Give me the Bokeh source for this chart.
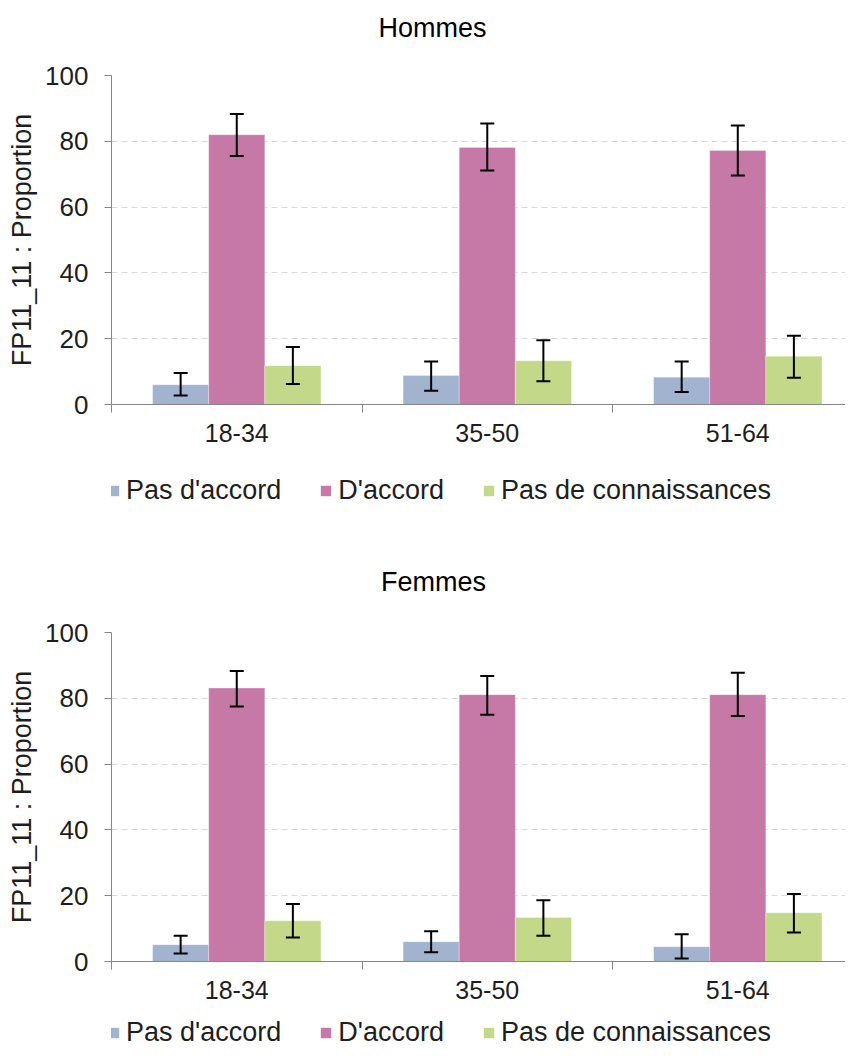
from bokeh.plotting import figure
from bokeh.models import (Range1d, FixedTicker, ColumnDataSource, Whisker, TeeHead,
                          Legend, LegendItem, Label)
from bokeh.layouts import column
from bokeh.embed import file_html
from bokeh.resources import INLINE

categories = ["18-34", "35-50", "51-64"]
series = ["Pas d'accord", "D'accord", "Pas de connaissances"]
colors = ["#A2B3D0", "#C678A6", "#C3D888"]
y_ticks = [0, 20, 40, 60, 80, 100]

# Hommes
hommes_pas_accord = [6.0, 8.8, 8.3]
hommes_pas_accord_lo = [2.7, 4.2, 3.8]
hommes_pas_accord_hi = [9.6, 13.1, 13.1]
hommes_accord = [82.0, 78.1, 77.2]
hommes_accord_lo = [75.5, 71.1, 69.6]
hommes_accord_hi = [88.3, 85.4, 84.8]
hommes_connais = [11.8, 13.3, 14.7]
hommes_connais_lo = [6.2, 7.1, 8.1]
hommes_connais_hi = [17.5, 19.5, 20.9]

# Femmes
femmes_pas_accord = [5.1, 6.0, 4.5]
femmes_pas_accord_lo = [2.4, 2.8, 0.9]
femmes_pas_accord_hi = [7.8, 9.2, 8.3]
femmes_accord = [83.1, 81.1, 81.1]
femmes_accord_lo = [77.5, 75.0, 74.6]
femmes_accord_hi = [88.3, 86.8, 87.8]
femmes_connais = [12.4, 13.4, 14.8]
femmes_connais_lo = [7.3, 7.8, 8.8]
femmes_connais_hi = [17.5, 18.6, 20.5]

FONT = "Liberation Sans"
TXT = "#1e1e1e"
AXIS = "#868686"
BAR_W = 0.224
OFFSETS = [-BAR_W, 0.0, BAR_W]
W = 845
LEFT_B = 111


def blank(height, top_b=0, bottom_b=0):
    f = figure(width=W, height=height, x_range=Range1d(0, 1), y_range=Range1d(0, 1),
               output_backend="svg", toolbar_location=None,
               x_axis_type=None, y_axis_type=None,
               min_border_left=0, min_border_right=0,
               min_border_top=top_b, min_border_bottom=bottom_b)
    f.outline_line_color = None
    f.xgrid.visible = False
    f.ygrid.visible = False
    return f


def add_title(f, text, sx, sy):
    f.add_layout(Label(x=sx, y=sy, x_units="screen", y_units="screen", text=text,
                       text_align="center", text_baseline="alphabetic",
                       text_font=FONT, text_font_size="27px", text_color="black"))


def add_legend(f, sx, sy):
    items = []
    for k in range(3):
        # legend swatch only: its single bar lies outside both visible ranges
        r = f.vbar(x=[-10], bottom=[-20], top=[-10], width=0.1,
                   fill_color=colors[k], line_color=None)
        items.append(LegendItem(label=series[k], renderers=[r]))
    leg = Legend(items=items, orientation="horizontal", location=(sx, sy),
                 padding=0, margin=0, spacing=38, label_standoff=6,
                 glyph_width=13, glyph_height=13,
                 label_text_font=FONT, label_text_font_size="27px", label_text_color=TXT,
                 border_line_color=None, background_fill_alpha=0)
    f.add_layout(leg, "center")


def make_chart(vals, los, his, top_b, bottom_b):
    p = figure(width=W, height=top_b + 329 + bottom_b, x_range=Range1d(0, 2.93),
               y_range=Range1d(0, 100),
               output_backend="svg", toolbar_location=None,
               min_border_left=LEFT_B, min_border_right=0,
               min_border_top=top_b, min_border_bottom=bottom_b)
    p.outline_line_color = None

    xax = p.xaxis[0]
    xax.ticker = FixedTicker(ticks=[0.5, 1.5, 2.5], minor_ticks=[0, 1, 2, 3])
    xax.major_label_overrides = {0.5: categories[0], 1.5: categories[1], 2.5: categories[2]}
    xax.major_tick_line_color = None
    xax.major_tick_out = 0
    xax.major_tick_in = 0
    xax.minor_tick_out = 8
    xax.minor_tick_in = 0
    xax.minor_tick_line_color = AXIS
    xax.axis_line_color = AXIS
    xax.major_label_standoff = 11
    xax.major_label_text_font = FONT
    xax.major_label_text_font_size = "25px"
    xax.major_label_text_color = TXT

    yax = p.yaxis[0]
    yax.ticker = FixedTicker(ticks=y_ticks, minor_ticks=[])
    yax.major_tick_out = 7
    yax.major_tick_in = 0
    yax.major_tick_line_color = AXIS
    yax.minor_tick_line_color = None
    yax.axis_line_color = AXIS
    yax.major_label_standoff = 16
    yax.major_label_text_font = FONT
    yax.major_label_text_font_size = "26px"
    yax.major_label_text_color = TXT
    yax.axis_label = "FP11_11 : Proportion"
    yax.axis_label_text_font = FONT
    yax.axis_label_text_font_size = "27px"
    yax.axis_label_text_font_style = "normal"
    yax.axis_label_text_color = TXT
    yax.axis_label_standoff = 5

    p.xgrid.grid_line_color = None
    p.ygrid.ticker = FixedTicker(ticks=y_ticks[1:])
    p.ygrid.grid_line_color = "#d9d9d9"
    p.ygrid.grid_line_dash = "6 4"
    p.ygrid.grid_line_width = 1

    for k in range(3):
        xs = [i + 0.5 + OFFSETS[k] for i in range(len(categories))]
        src = ColumnDataSource(dict(x=xs, top=vals[k], lo=los[k], hi=his[k]))
        p.vbar(x="x", top="top", bottom=0, width=BAR_W, source=src,
               fill_color=colors[k], line_color="white", line_width=0.6, line_alpha=0.5)
        w = Whisker(base="x", lower="lo", upper="hi", source=src, dimension="height",
                    line_color="black", line_width=2, level="annotation",
                    upper_head=TeeHead(size=14, line_width=2, line_color="black"),
                    lower_head=TeeHead(size=14, line_width=2, line_color="black"))
        p.add_layout(w)
    return p


t1 = blank(50)
add_title(t1, "Hommes", 321, 23)

c1 = make_chart([hommes_pas_accord, hommes_accord, hommes_connais],
                [hommes_pas_accord_lo, hommes_accord_lo, hommes_connais_lo],
                [hommes_pas_accord_hi, hommes_accord_hi, hommes_connais_hi], 25, 53)

m1 = blank(150)
add_legend(m1, -4, 101)
add_title(m1, "Femmes", 322, 26)

c2 = make_chart([femmes_pas_accord, femmes_accord, femmes_connais],
                [femmes_pas_accord_lo, femmes_accord_lo, femmes_connais_lo],
                [femmes_pas_accord_hi, femmes_accord_hi, femmes_connais_hi], 25, 53)

l2 = blank(29, 0, -7)
add_legend(l2, -4, -5)

layout = column(t1, c1, m1, c2, l2, spacing=0)
open("out.html", "w").write(file_html(layout, INLINE))
